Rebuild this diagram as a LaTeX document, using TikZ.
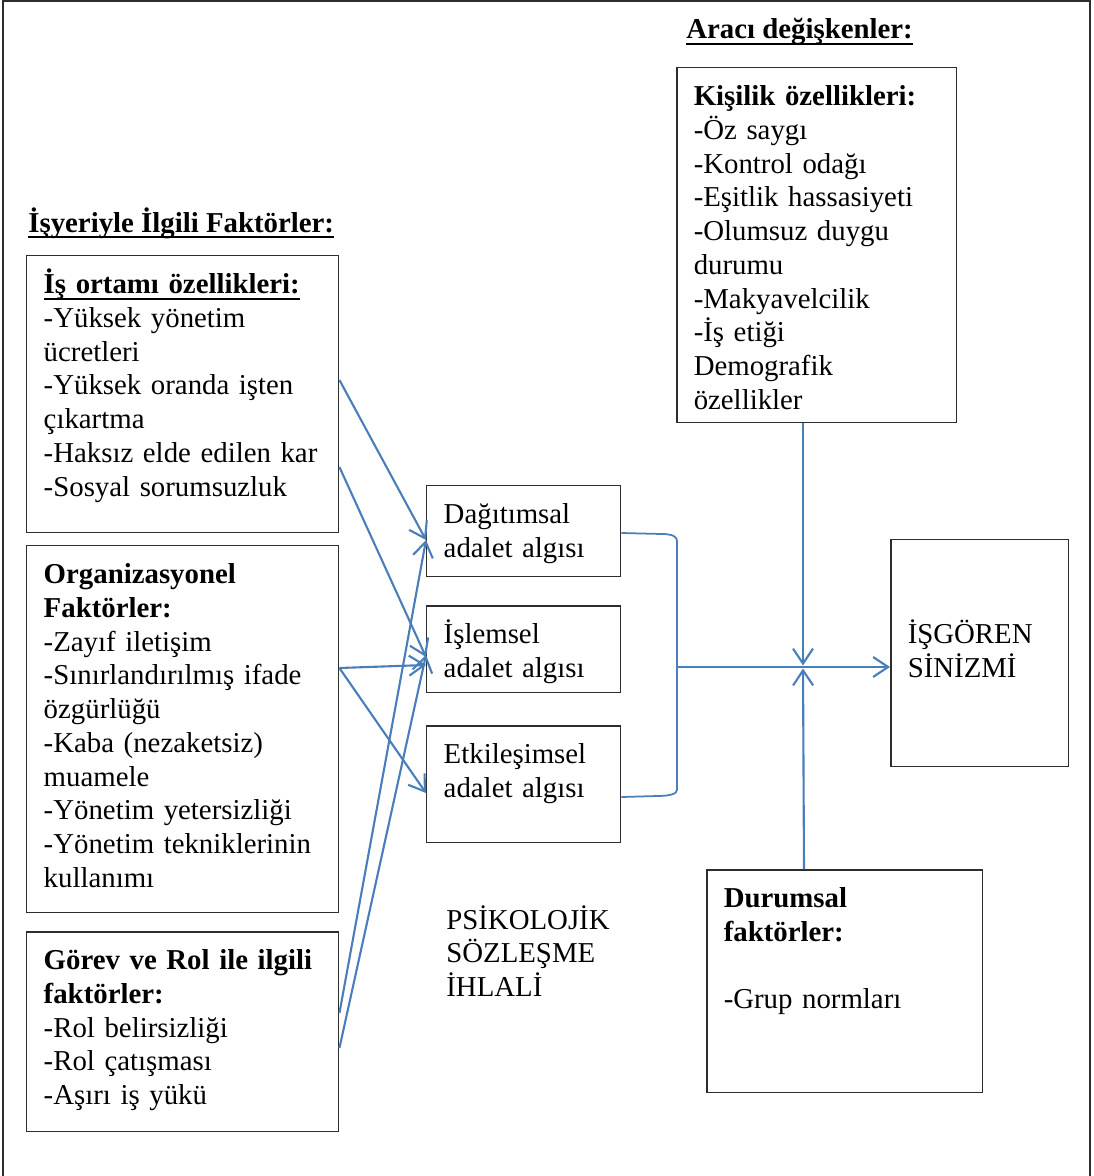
\documentclass[tikz,border=0pt]{standalone}
\usepackage{fontspec}
\setmainfont{Liberation Serif}
\usetikzlibrary{arrows.meta,calc}

\definecolor{okmavi}{RGB}{74,126,187}
\definecolor{kenar}{RGB}{45,45,45}
\newcommand{\altcizgi}[1]{\setbox0\hbox{#1}\leavevmode\rlap{\rule[-3.6pt]{\wd0}{1.3pt}}\box0}

\tikzset{
  kutu/.style={font=\fontsize{16.4}{19.2}\selectfont, draw=kenar, line width=0.85pt,
    anchor=north west, align=left, inner xsep=0.34cm, inner ysep=0.2cm, text height=0.56cm},
  baslik/.style={anchor=base west, inner sep=0pt, font=\fontsize{16.4}{19.2}\selectfont\bfseries},
  metin/.style={anchor=base west, inner sep=0pt, align=left, text width=4cm,
    font=\fontsize{16.4}{19.2}\selectfont},
  akis/.style={okmavi, line width=1pt},
  ok/.style={okmavi, line width=1.2pt, -{Straight Barb[length=0.3cm,width=0.4cm]}},
}

\begin{document}
\begin{tikzpicture}[x=0.02cm,y=-0.02cm]
\useasboundingbox (0,0) rectangle (1093,1176);
\draw[kenar, line width=0.85pt] (3,1180) -- (3,1) -- (1090,1) -- (1090,1180);

% basliklar
\node[baslik] (isyeri) at (28,232) {\altcizgi{İşyeriyle İlgili Faktörler:}};
\node[baslik] (araci) at (686,39) {\altcizgi{Aracı değişkenler:}};

% sol kutular
\node[kutu, text width=5.56cm, text depth=4.58cm] (ortam) at (26,255)
  {\textbf{\altcizgi{İş ortamı özellikleri:}}\\-Yüksek yönetim\\ücretleri\\-Yüksek oranda işten\\çıkartma\\-Haksız elde edilen kar\\-Sosyal sorumsuzluk};
\node[kutu, text width=5.56cm, text depth=6.38cm] (orgut) at (26,545)
  {\textbf{Organizasyonel}\\\textbf{Faktörler:}\\-Zayıf iletişim\\-Sınırlandırılmış ifade\\özgürlüğü\\-Kaba (nezaketsiz)\\muamele\\-Yönetim yetersizliği\\-Yönetim tekniklerinin\\kullanımı};
\node[kutu, text width=5.56cm, text depth=3.04cm] (gorev) at (26,931)
  {\textbf{Görev ve Rol ile ilgili}\\\textbf{faktörler:}\\-Rol belirsizliği\\-Rol çatışması\\-Aşırı iş yükü};

% orta kutular
\node[kutu, text width=3.2cm, text depth=0.86cm] (dagitimsal) at (426,485) {Dağıtımsal\\adalet algısı};
\node[kutu, text width=3.2cm, text depth=0.78cm] (islemsel) at (426,605) {İşlemsel\\adalet algısı};
\node[kutu, text width=3.2cm, text depth=1.38cm] (etkilesimsel) at (426,725) {Etkileşimsel\\adalet algısı};
\node[metin] (psikolojik) at (446,929) {PSİKOLOJİK\\SÖZLEŞME\\İHLALİ};

% sag kutular
\node[kutu, text width=4.92cm, text depth=6.14cm] (kisilik) at (676,67)
  {\textbf{Kişilik özellikleri:}\\-Öz saygı\\-Kontrol odağı\\-Eşitlik hassasiyeti\\-Olumsuz duygu\\durumu\\-Makyavelcilik\\-İş etiği\\Demografik\\özellikler};
\node[kutu, text width=4.84cm, text depth=3.5cm] (durumsal) at (706,869)
  {\textbf{Durumsal}\\\textbf{faktörler:}\\[19.2pt]-Grup normları};
\node[kutu, text width=2.88cm, text height=1.88cm, text depth=2.26cm] (sinizm) at (890,539)
  {İŞGÖREN\\SİNİZMİ};

% soldan ortaya oklar
\foreach \kaynak/\ky/\hedef/\hy in {ortam/125/dagitimsal/55, ortam/212/islemsel/52,
    orgut/123/islemsel/60, orgut/123/etkilesimsel/68,
    gorev/82/dagitimsal/55, gorev/117/islemsel/50}{
  \draw[ok] ($(\kaynak.north east)+(0,\ky)$) -- ($(\hedef.north west)+(0,\hy)$);
}

% ayrac ve sinizme ok
\coordinate (ayrac) at (677,667);
\coordinate (kesisim) at (803,667);
\draw[akis] ($(dagitimsal.north east)+(0,48)$) -- ++(40,1) .. controls +(12,0) and +(0,-4) .. (677,541)
  -- (677,790) .. controls +(0,4) and +(12,0) .. (657,796) -- ($(etkilesimsel.north east)+(0,72)$);
\draw[ok] (ayrac) -- (sinizm.west |- ayrac);
\draw[ok, shorten >=0.03cm] ($(kisilik.south west)+(127,0)$) -- (kesisim);
\draw[ok, shorten >=0.03cm] ($(durumsal.north west)+(98,0)$) -- (kesisim);
\end{tikzpicture}
\end{document}
